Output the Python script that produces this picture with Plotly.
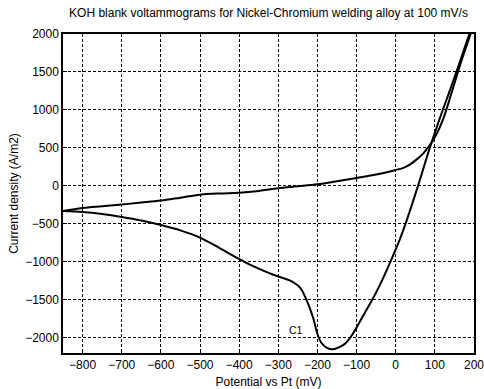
import plotly.graph_objects as go

# Anodic sweep (-850 mV -> +192 mV)
potential_forward = [-850, -800, -750, -700, -650, -600, -550, -500, -450, -400,
                     -350, -300, -250, -200, -150, -100, -50, 0, 20, 35,
                     57, 70, 80, 88, 96, 112, 123, 140, 165, 192]
current_forward = [-331, -292, -268, -245, -220, -193, -155, -116, -99, -90,
                   -66, -30, -5, 22, 62, 105, 150, 210, 238, 276,
                   364, 425, 490, 545, 605, 765, 905, 1180, 1600, 2010]

# Cathodic sweep (+190 mV -> -850 mV)
potential_reverse = [190, 165, 140, 112, 87, 57, 25, 10, 0, -17,
                     -40, -60, -80, -100, -117, -130, -143, -160, -177,
                     -190, -200, -211, -228, -245, -271, -300, -325, -350, -375,
                     -400, -450, -500, -550, -600, -650, -700, -750, -800, -850]
current_reverse = [2030, 1650, 1280, 880, 500, 0, -500, -711, -835, -1040,
                   -1300, -1500, -1680, -1865, -2005, -2080, -2120, -2152, -2128,
                   -2065, -1950, -1735, -1500, -1335, -1245, -1192, -1145, -1090, -1030,
                   -962, -818, -680, -585, -515, -455, -408, -370, -344, -331]

x_ticks = [-800, -700, -600, -500, -400, -300, -200, -100, 0, 100, 200]
y_ticks = [-2000, -1500, -1000, -500, 0, 500, 1000, 1500, 2000]

font_family = "Arial, Liberation Sans, sans-serif"
curve_line = dict(color="black", width=2, shape="spline", smoothing=1.0)

fig = go.Figure()
fig.add_trace(go.Scatter(x=potential_forward, y=current_forward, mode="lines",
                         line=curve_line, showlegend=False))
fig.add_trace(go.Scatter(x=potential_reverse, y=current_reverse, mode="lines",
                         line=curve_line, showlegend=False))

fig.add_annotation(x=-254, y=-1900, text="C1", showarrow=False,
                   font=dict(family=font_family, size=10.5, color="black"))

axis_common = dict(
    showline=True, linecolor="black", linewidth=1.5, mirror=True,
    showgrid=True, gridcolor="black", gridwidth=1, griddash="3px,2px",
    ticks="inside", ticklen=4, tickcolor="black",
    zeroline=False, automargin=False, ticklabeloverflow="allow",
    tickfont=dict(family=font_family, size=12, color="black"),
)

fig.update_xaxes(range=[-850, 200], tickvals=x_ticks,
                 title=dict(text="Potential vs Pt (mV)", standoff=8,
                            font=dict(family=font_family, size=12, color="black")),
                 **axis_common)
fig.update_yaxes(range=[-2200, 2000], tickvals=y_ticks,
                 title=dict(text="Current density (A/m2)", standoff=4,
                            font=dict(family=font_family, size=12, color="black")),
                 **axis_common)

fig.update_layout(
    width=484, height=389,
    margin=dict(l=63, r=10, t=34, b=36),
    paper_bgcolor="white", plot_bgcolor="white",
    title=dict(text="KOH blank voltammograms for Nickel-Chromium welding alloy at 100 mV/s",
               x=0.5, xref="paper", y=1 - 13 / 389, yref="container", yanchor="middle",
               font=dict(family=font_family, size=12, color="black")),
)

fig.write_html("out.html")
